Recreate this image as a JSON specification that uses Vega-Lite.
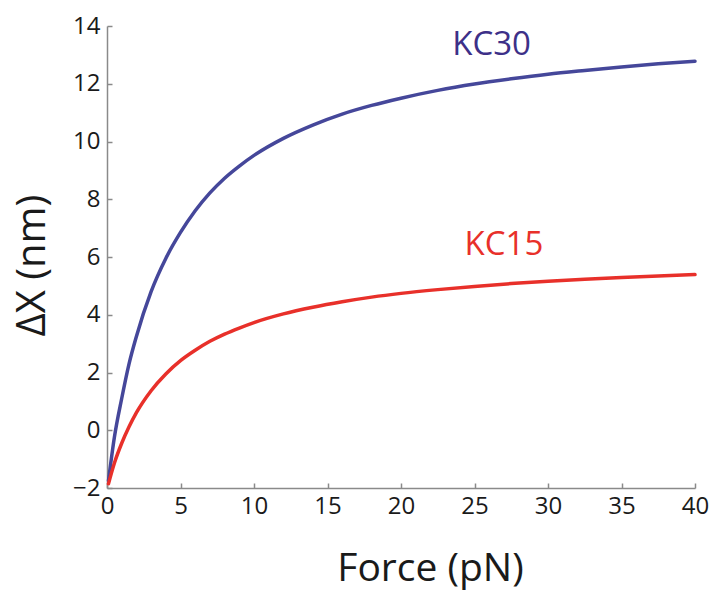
{
  "$schema": "https://vega.github.io/schema/vega-lite/v6.json",
  "width": 588,
  "height": 462,
  "autosize": "none",
  "padding": {"left": 107, "top": 26, "right": 17, "bottom": 104},
  "background": "white",
  "config": {
    "view": {"stroke": null},
    "font": "Open Sans",
    "axis": {
      "domainColor": "#8a8a8a",
      "domainWidth": 1.5,
      "tickColor": "#8a8a8a",
      "tickWidth": 1.5,
      "tickSize": -5,
      "labelFlush": false,
      "labelOverlap": false,
      "labelFont": "Open Sans",
      "labelFontSize": 24,
      "labelColor": "#1a1a1a",
      "titleFont": "Open Sans",
      "titleFontWeight": "normal",
      "titleColor": "#1a1a1a",
      "grid": false
    }
  },
  "datasets": {
    "curves": [
      {"series": "KC30", "F": 0.1, "Y": -1.75},
      {"series": "KC30", "F": 0.5, "Y": -0.25},
      {"series": "KC30", "F": 1, "Y": 1.1},
      {"series": "KC30", "F": 1.5, "Y": 2.3},
      {"series": "KC30", "F": 2, "Y": 3.25},
      {"series": "KC30", "F": 3, "Y": 4.8},
      {"series": "KC30", "F": 4, "Y": 5.95},
      {"series": "KC30", "F": 5, "Y": 6.85},
      {"series": "KC30", "F": 6, "Y": 7.6},
      {"series": "KC30", "F": 7, "Y": 8.22},
      {"series": "KC30", "F": 8, "Y": 8.73},
      {"series": "KC30", "F": 9, "Y": 9.15},
      {"series": "KC30", "F": 10, "Y": 9.52},
      {"series": "KC30", "F": 12, "Y": 10.11},
      {"series": "KC30", "F": 14, "Y": 10.57},
      {"series": "KC30", "F": 16, "Y": 10.95},
      {"series": "KC30", "F": 18, "Y": 11.25},
      {"series": "KC30", "F": 20, "Y": 11.5},
      {"series": "KC30", "F": 22.5, "Y": 11.77},
      {"series": "KC30", "F": 25, "Y": 11.99},
      {"series": "KC30", "F": 27.5, "Y": 12.17},
      {"series": "KC30", "F": 30, "Y": 12.33},
      {"series": "KC30", "F": 32.5, "Y": 12.46},
      {"series": "KC30", "F": 35, "Y": 12.58},
      {"series": "KC30", "F": 37.5, "Y": 12.69},
      {"series": "KC30", "F": 40, "Y": 12.78},
      {"series": "KC15", "F": 0.1, "Y": -1.85},
      {"series": "KC15", "F": 0.5, "Y": -1.14},
      {"series": "KC15", "F": 1, "Y": -0.45},
      {"series": "KC15", "F": 1.5, "Y": 0.12},
      {"series": "KC15", "F": 2, "Y": 0.61},
      {"series": "KC15", "F": 3, "Y": 1.37},
      {"series": "KC15", "F": 4, "Y": 1.95},
      {"series": "KC15", "F": 5, "Y": 2.41},
      {"series": "KC15", "F": 6, "Y": 2.77},
      {"series": "KC15", "F": 7, "Y": 3.08},
      {"series": "KC15", "F": 8, "Y": 3.33},
      {"series": "KC15", "F": 9, "Y": 3.54},
      {"series": "KC15", "F": 10, "Y": 3.73},
      {"series": "KC15", "F": 12, "Y": 4.03},
      {"series": "KC15", "F": 14, "Y": 4.26},
      {"series": "KC15", "F": 16, "Y": 4.45},
      {"series": "KC15", "F": 18, "Y": 4.61},
      {"series": "KC15", "F": 20, "Y": 4.74},
      {"series": "KC15", "F": 22.5, "Y": 4.87},
      {"series": "KC15", "F": 25, "Y": 4.98},
      {"series": "KC15", "F": 27.5, "Y": 5.08},
      {"series": "KC15", "F": 30, "Y": 5.16},
      {"series": "KC15", "F": 32.5, "Y": 5.23},
      {"series": "KC15", "F": 35, "Y": 5.29},
      {"series": "KC15", "F": 37.5, "Y": 5.34},
      {"series": "KC15", "F": 40, "Y": 5.39}
    ],
    "labels": [
      {"series": "KC30", "F": 26.16, "Y": 13.35},
      {"series": "KC15", "F": 27.0, "Y": 6.4}
    ]
  },
  "layer": [
    {
      "data": {"name": "curves"},
      "mark": {"type": "line", "strokeWidth": 3.5, "interpolate": "monotone", "strokeCap": "round"},
      "encoding": {
        "x": {
          "field": "F", "type": "quantitative",
          "scale": {"domain": [0, 40], "nice": false, "zero": false},
          "axis": {
            "title": "Force (pN)", "values": [0, 5, 10, 15, 20, 25, 30, 35, 40],
            "labelPadding": 11, "titleFontSize": 39, "titleX": 323, "titleY": 92,
            "titleBaseline": "alphabetic", "titleAnchor": "middle", "titleAlign": "center"
          }
        },
        "y": {
          "field": "Y", "type": "quantitative",
          "scale": {"domain": [-2, 14], "nice": false, "zero": false},
          "axis": {
            "title": "ΔX (nm)", "values": [-2, 0, 2, 4, 6, 8, 10, 12, 14],
            "labelPadding": 12, "titleFontSize": 40, "titleX": -75, "titleY": 239,
            "titleBaseline": "middle", "titleAngle": -90, "titleAlign": "center"
          }
        },
        "color": {
          "field": "series", "type": "nominal", "legend": null,
          "scale": {"domain": ["KC30", "KC15"], "range": ["#45479a", "#e8302a"]}
        }
      }
    },
    {
      "data": {"name": "labels"},
      "mark": {"type": "text", "fontSize": 33, "align": "center", "baseline": "middle", "font": "Open Sans"},
      "encoding": {
        "x": {"field": "F", "type": "quantitative"},
        "y": {"field": "Y", "type": "quantitative"},
        "text": {"field": "series"},
        "color": {
          "field": "series", "type": "nominal", "legend": null,
          "scale": {"domain": ["KC30", "KC15"], "range": ["#3d3088", "#e8302a"]}
        }
      }
    }
  ],
  "resolve": {"scale": {"color": "independent"}}
}
